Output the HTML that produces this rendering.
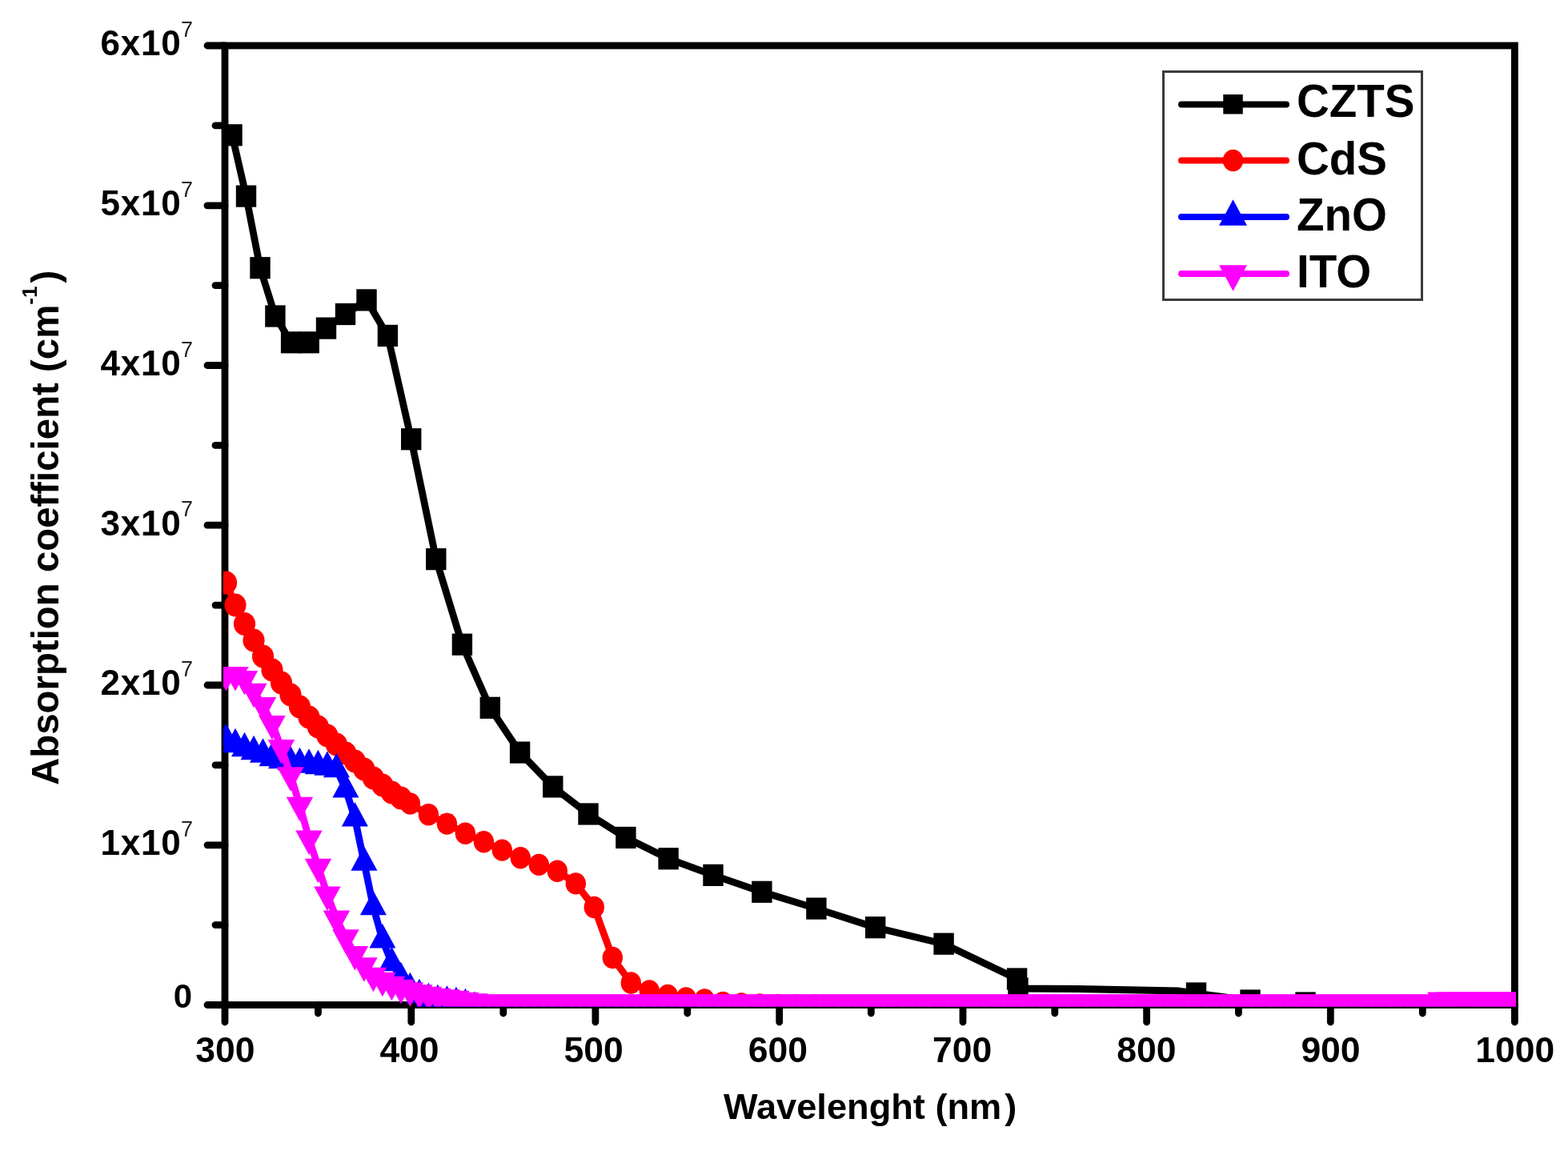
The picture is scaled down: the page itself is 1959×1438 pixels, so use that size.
<!DOCTYPE html>
<html><head><meta charset="utf-8"><title>Absorption coefficient</title>
<style>
html,body{margin:0;padding:0;background:#fff;}
svg{display:block;}
text{font-family:"Liberation Sans",Arial,sans-serif;fill:#000;font-variant-ligatures:none;}
.tk{font-size:43px;font-weight:bold;}
.tkx{font-size:44.5px;font-weight:bold;}
.tky{font-size:44px;font-weight:bold;letter-spacing:0.8px;}
.sup{font-size:27px;font-weight:normal;fill:#222;}
.lg{font-size:56.5px;font-weight:bold;}
.ttl{font-size:45.2px;font-weight:bold;}
.ttly{font-size:47.4px;font-weight:bold;}
.ysup{font-size:26px;font-weight:bold;}
</style></head>
<body>
<svg width="1959" height="1438" viewBox="0 0 1959 1438">
<rect width="1959" height="1438" fill="#fff"/>
<rect x="281" y="57" width="1611.4" height="1198.5" fill="none" stroke="#000" stroke-width="8.8"/>
<line x1="281" y1="1255.5" x2="259" y2="1255.5" stroke="#000" stroke-width="8.8" stroke-linecap="round"/>
<line x1="281" y1="1155.6" x2="269" y2="1155.6" stroke="#000" stroke-width="8.8" stroke-linecap="round"/>
<line x1="281" y1="1055.8" x2="259" y2="1055.8" stroke="#000" stroke-width="8.8" stroke-linecap="round"/>
<line x1="281" y1="955.9" x2="269" y2="955.9" stroke="#000" stroke-width="8.8" stroke-linecap="round"/>
<line x1="281" y1="856.0" x2="259" y2="856.0" stroke="#000" stroke-width="8.8" stroke-linecap="round"/>
<line x1="281" y1="756.1" x2="269" y2="756.1" stroke="#000" stroke-width="8.8" stroke-linecap="round"/>
<line x1="281" y1="656.2" x2="259" y2="656.2" stroke="#000" stroke-width="8.8" stroke-linecap="round"/>
<line x1="281" y1="556.4" x2="269" y2="556.4" stroke="#000" stroke-width="8.8" stroke-linecap="round"/>
<line x1="281" y1="456.5" x2="259" y2="456.5" stroke="#000" stroke-width="8.8" stroke-linecap="round"/>
<line x1="281" y1="356.6" x2="269" y2="356.6" stroke="#000" stroke-width="8.8" stroke-linecap="round"/>
<line x1="281" y1="256.8" x2="259" y2="256.8" stroke="#000" stroke-width="8.8" stroke-linecap="round"/>
<line x1="281" y1="156.9" x2="269" y2="156.9" stroke="#000" stroke-width="8.8" stroke-linecap="round"/>
<line x1="281" y1="57.0" x2="259" y2="57.0" stroke="#000" stroke-width="8.8" stroke-linecap="round"/>
<line x1="281.0" y1="1255.5" x2="281.0" y2="1277.0" stroke="#000" stroke-width="8.8" stroke-linecap="round"/>
<line x1="397.4" y1="1255.5" x2="397.4" y2="1266.0" stroke="#000" stroke-width="8.8" stroke-linecap="round"/>
<line x1="513.8" y1="1255.5" x2="513.8" y2="1277.0" stroke="#000" stroke-width="8.8" stroke-linecap="round"/>
<line x1="628.8" y1="1255.5" x2="628.8" y2="1266.0" stroke="#000" stroke-width="8.8" stroke-linecap="round"/>
<line x1="743.9" y1="1255.5" x2="743.9" y2="1277.0" stroke="#000" stroke-width="8.8" stroke-linecap="round"/>
<line x1="858.8" y1="1255.5" x2="858.8" y2="1266.0" stroke="#000" stroke-width="8.8" stroke-linecap="round"/>
<line x1="973.7" y1="1255.5" x2="973.7" y2="1277.0" stroke="#000" stroke-width="8.8" stroke-linecap="round"/>
<line x1="1088.3" y1="1255.5" x2="1088.3" y2="1266.0" stroke="#000" stroke-width="8.8" stroke-linecap="round"/>
<line x1="1203.0" y1="1255.5" x2="1203.0" y2="1277.0" stroke="#000" stroke-width="8.8" stroke-linecap="round"/>
<line x1="1317.8" y1="1255.5" x2="1317.8" y2="1266.0" stroke="#000" stroke-width="8.8" stroke-linecap="round"/>
<line x1="1432.6" y1="1255.5" x2="1432.6" y2="1277.0" stroke="#000" stroke-width="8.8" stroke-linecap="round"/>
<line x1="1547.4" y1="1255.5" x2="1547.4" y2="1266.0" stroke="#000" stroke-width="8.8" stroke-linecap="round"/>
<line x1="1662.3" y1="1255.5" x2="1662.3" y2="1277.0" stroke="#000" stroke-width="8.8" stroke-linecap="round"/>
<line x1="1777.3" y1="1255.5" x2="1777.3" y2="1266.0" stroke="#000" stroke-width="8.8" stroke-linecap="round"/>
<line x1="1892.4" y1="1255.5" x2="1892.4" y2="1277.0" stroke="#000" stroke-width="8.8" stroke-linecap="round"/>
<defs><clipPath id="pc"><rect x="279" y="54" width="1615" height="1203.5"/></clipPath></defs>
<g clip-path="url(#pc)">
<polyline fill="none" stroke="#000" stroke-width="8.8" stroke-linejoin="round" points="290.0,168.8 307.5,245.1 325.0,334.7 343.9,395.0 363.6,427.8 386.2,427.8 407.5,410.1 431.5,392.5 458.0,374.9 484.4,419.4 513.7,548.7 544.8,698.6 577.4,805.2 612.3,884.3 649.6,940.1 690.8,982.9 735.0,1017.0 781.9,1046.5 835.1,1072.8 891.0,1093.4 951.9,1114.3 1019.9,1135.1 1093.7,1158.7 1179.1,1179.2 1270.6,1223.0 1272.0,1235.0 1347.0,1235.5 1473.0,1238.0 1494.5,1241.0 1562.0,1250.0 1631.0,1253.0 1707.0,1258.0 1789.0,1258.0 1892.0,1258.0"/>
<g fill="#000"><rect x="277.3" y="155.2" width="25.4" height="27.2"/><rect x="294.8" y="231.5" width="25.4" height="27.2"/><rect x="312.3" y="321.1" width="25.4" height="27.2"/><rect x="331.2" y="381.4" width="25.4" height="27.2"/><rect x="350.9" y="414.2" width="25.4" height="27.2"/><rect x="373.5" y="414.2" width="25.4" height="27.2"/><rect x="394.8" y="396.5" width="25.4" height="27.2"/><rect x="418.8" y="378.9" width="25.4" height="27.2"/><rect x="445.3" y="361.3" width="25.4" height="27.2"/><rect x="471.7" y="405.8" width="25.4" height="27.2"/><rect x="501.0" y="535.1" width="25.4" height="27.2"/><rect x="532.1" y="685.0" width="25.4" height="27.2"/><rect x="564.7" y="791.6" width="25.4" height="27.2"/><rect x="599.6" y="870.7" width="25.4" height="27.2"/><rect x="636.9" y="926.5" width="25.4" height="27.2"/><rect x="678.1" y="969.3" width="25.4" height="27.2"/><rect x="722.3" y="1003.4" width="25.4" height="27.2"/><rect x="769.2" y="1032.9" width="25.4" height="27.2"/><rect x="822.4" y="1059.2" width="25.4" height="27.2"/><rect x="878.3" y="1079.8" width="25.4" height="27.2"/><rect x="939.2" y="1100.7" width="25.4" height="27.2"/><rect x="1007.2" y="1121.5" width="25.4" height="27.2"/><rect x="1081.0" y="1145.1" width="25.4" height="27.2"/><rect x="1166.4" y="1165.6" width="25.4" height="27.2"/><rect x="1257.9" y="1209.4" width="25.4" height="27.2"/><rect x="1259.3" y="1221.4" width="25.4" height="27.2"/><rect x="1481.8" y="1227.4" width="25.4" height="27.2"/><rect x="1549.3" y="1236.4" width="25.4" height="27.2"/><rect x="1618.3" y="1239.4" width="25.4" height="27.2"/></g>
<polyline fill="none" stroke="#f00" stroke-width="8.8" stroke-linejoin="round" points="282.5,728.0 294.0,756.0 305.5,779.5 317.0,800.0 328.5,820.0 340.0,837.0 351.5,853.0 363.0,868.0 374.5,883.0 386.0,896.0 397.4,908.0 408.9,919.0 420.4,930.0 431.9,941.0 443.4,951.0 454.9,961.0 466.4,972.0 477.9,981.0 489.4,990.0 500.9,997.0 512.4,1004.0 535.4,1017.8 558.4,1029.1 581.4,1041.3 604.4,1051.7 627.3,1062.1 650.3,1071.7 673.3,1080.4 696.3,1088.2 719.3,1103.9 742.3,1133.5 765.3,1196.5 788.3,1228.0 811.3,1238.0 834.3,1243.4 857.2,1247.0 880.2,1249.0 903.2,1252.5 926.2,1254.0 949.2,1255.0 972.2,1255.5 995.2,1255.7 1018.2,1256.0 1041.2,1257.1 1064.2,1258.0 1087.2,1258.0 1110.1,1258.0 1133.1,1258.0 1156.1,1258.0 1179.1,1258.0 1202.1,1258.0 1225.1,1258.0 1248.1,1258.0 1271.1,1258.0 1294.1,1258.0 1317.0,1258.0 1340.0,1258.0 1363.0,1258.0 1386.0,1258.0 1409.0,1258.0 1432.0,1258.0 1455.0,1258.0 1478.0,1258.0 1501.0,1258.0 1524.0,1258.0 1547.0,1258.0 1569.9,1258.0 1592.9,1258.0 1615.9,1258.0 1638.9,1258.0 1661.9,1258.0 1684.9,1258.0 1707.9,1258.0 1730.9,1258.0 1753.9,1258.0 1776.8,1258.0 1799.8,1258.0 1822.8,1258.0 1845.8,1258.0 1868.8,1258.0 1891.8,1258.0"/>
<g fill="#f00"><ellipse cx="282.5" cy="728.0" rx="13.6" ry="14.6"/><ellipse cx="294.0" cy="756.0" rx="13.6" ry="14.6"/><ellipse cx="305.5" cy="779.5" rx="13.6" ry="14.6"/><ellipse cx="317.0" cy="800.0" rx="13.6" ry="14.6"/><ellipse cx="328.5" cy="820.0" rx="13.6" ry="14.6"/><ellipse cx="340.0" cy="837.0" rx="13.6" ry="14.6"/><ellipse cx="351.5" cy="853.0" rx="13.6" ry="14.6"/><ellipse cx="363.0" cy="868.0" rx="13.6" ry="14.6"/><ellipse cx="374.5" cy="883.0" rx="13.6" ry="14.6"/><ellipse cx="386.0" cy="896.0" rx="13.6" ry="14.6"/><ellipse cx="397.4" cy="908.0" rx="13.6" ry="14.6"/><ellipse cx="408.9" cy="919.0" rx="13.6" ry="14.6"/><ellipse cx="420.4" cy="930.0" rx="13.6" ry="14.6"/><ellipse cx="431.9" cy="941.0" rx="13.6" ry="14.6"/><ellipse cx="443.4" cy="951.0" rx="13.6" ry="14.6"/><ellipse cx="454.9" cy="961.0" rx="13.6" ry="14.6"/><ellipse cx="466.4" cy="972.0" rx="13.6" ry="14.6"/><ellipse cx="477.9" cy="981.0" rx="13.6" ry="14.6"/><ellipse cx="489.4" cy="990.0" rx="13.6" ry="14.6"/><ellipse cx="500.9" cy="997.0" rx="13.6" ry="14.6"/><ellipse cx="512.4" cy="1004.0" rx="12.7" ry="13.7"/><ellipse cx="535.4" cy="1017.8" rx="12.7" ry="13.7"/><ellipse cx="558.4" cy="1029.1" rx="12.7" ry="13.7"/><ellipse cx="581.4" cy="1041.3" rx="12.7" ry="13.7"/><ellipse cx="604.4" cy="1051.7" rx="12.7" ry="13.7"/><ellipse cx="627.3" cy="1062.1" rx="12.7" ry="13.7"/><ellipse cx="650.3" cy="1071.7" rx="12.7" ry="13.7"/><ellipse cx="673.3" cy="1080.4" rx="12.7" ry="13.7"/><ellipse cx="696.3" cy="1088.2" rx="12.7" ry="13.7"/><ellipse cx="719.3" cy="1103.9" rx="12.7" ry="13.7"/><ellipse cx="742.3" cy="1133.5" rx="12.7" ry="13.7"/><ellipse cx="765.3" cy="1196.5" rx="12.7" ry="13.7"/><ellipse cx="788.3" cy="1228.0" rx="12.7" ry="13.7"/><ellipse cx="811.3" cy="1238.0" rx="12.7" ry="13.7"/><ellipse cx="834.3" cy="1243.4" rx="12.7" ry="13.7"/><ellipse cx="857.2" cy="1247.0" rx="12.7" ry="13.7"/><ellipse cx="880.2" cy="1249.0" rx="12.7" ry="13.7"/><ellipse cx="903.2" cy="1252.5" rx="12.7" ry="13.7"/><ellipse cx="926.2" cy="1254.0" rx="12.7" ry="13.7"/><ellipse cx="949.2" cy="1255.0" rx="12.7" ry="13.7"/><ellipse cx="972.2" cy="1255.5" rx="12.7" ry="13.7"/><ellipse cx="995.2" cy="1255.7" rx="12.7" ry="13.7"/><ellipse cx="1018.2" cy="1256.0" rx="12.7" ry="13.7"/><ellipse cx="1041.2" cy="1257.1" rx="12.7" ry="13.7"/><ellipse cx="1064.2" cy="1258.0" rx="12.7" ry="13.7"/><ellipse cx="1087.2" cy="1258.0" rx="12.7" ry="13.7"/><ellipse cx="1110.1" cy="1258.0" rx="12.7" ry="13.7"/><ellipse cx="1133.1" cy="1258.0" rx="12.7" ry="13.7"/><ellipse cx="1156.1" cy="1258.0" rx="12.7" ry="13.7"/><ellipse cx="1179.1" cy="1258.0" rx="12.7" ry="13.7"/><ellipse cx="1202.1" cy="1258.0" rx="12.7" ry="13.7"/><ellipse cx="1225.1" cy="1258.0" rx="12.7" ry="13.7"/><ellipse cx="1248.1" cy="1258.0" rx="12.7" ry="13.7"/><ellipse cx="1271.1" cy="1258.0" rx="12.7" ry="13.7"/><ellipse cx="1294.1" cy="1258.0" rx="12.7" ry="13.7"/><ellipse cx="1317.0" cy="1258.0" rx="12.7" ry="13.7"/><ellipse cx="1340.0" cy="1258.0" rx="12.7" ry="13.7"/><ellipse cx="1363.0" cy="1258.0" rx="12.7" ry="13.7"/><ellipse cx="1386.0" cy="1258.0" rx="12.7" ry="13.7"/><ellipse cx="1409.0" cy="1258.0" rx="12.7" ry="13.7"/><ellipse cx="1432.0" cy="1258.0" rx="12.7" ry="13.7"/><ellipse cx="1455.0" cy="1258.0" rx="12.7" ry="13.7"/><ellipse cx="1478.0" cy="1258.0" rx="12.7" ry="13.7"/><ellipse cx="1501.0" cy="1258.0" rx="12.7" ry="13.7"/><ellipse cx="1524.0" cy="1258.0" rx="12.7" ry="13.7"/><ellipse cx="1547.0" cy="1258.0" rx="12.7" ry="13.7"/><ellipse cx="1569.9" cy="1258.0" rx="12.7" ry="13.7"/><ellipse cx="1592.9" cy="1258.0" rx="12.7" ry="13.7"/><ellipse cx="1615.9" cy="1258.0" rx="12.7" ry="13.7"/><ellipse cx="1638.9" cy="1258.0" rx="12.7" ry="13.7"/><ellipse cx="1661.9" cy="1258.0" rx="12.7" ry="13.7"/><ellipse cx="1684.9" cy="1258.0" rx="12.7" ry="13.7"/><ellipse cx="1707.9" cy="1258.0" rx="12.7" ry="13.7"/><ellipse cx="1730.9" cy="1258.0" rx="12.7" ry="13.7"/><ellipse cx="1753.9" cy="1258.0" rx="12.7" ry="13.7"/><ellipse cx="1776.8" cy="1258.0" rx="12.7" ry="13.7"/><ellipse cx="1799.8" cy="1258.0" rx="12.7" ry="13.7"/><ellipse cx="1822.8" cy="1258.0" rx="12.7" ry="13.7"/><ellipse cx="1845.8" cy="1258.0" rx="12.7" ry="13.7"/><ellipse cx="1868.8" cy="1258.0" rx="12.7" ry="13.7"/><ellipse cx="1891.8" cy="1258.0" rx="12.7" ry="13.7"/></g>
<polyline fill="none" stroke="#00f" stroke-width="8.8" stroke-linejoin="round" points="282.5,924.0 294.0,930.0 305.5,935.0 317.0,939.0 328.5,942.5 340.0,947.0 351.5,950.0 363.0,952.0 374.5,954.0 386.0,955.5 397.4,957.0 408.9,958.5 420.4,961.0 431.9,986.2 443.4,1022.3 454.9,1077.5 466.4,1133.1 477.9,1174.3 489.4,1203.0 500.9,1222.0 512.4,1235.0 523.9,1243.0 535.4,1248.0 546.9,1250.0 558.4,1251.5 569.9,1253.0 581.4,1255.0 592.9,1258.7 604.4,1262.0 615.9,1263.6 627.3,1264.8 638.8,1265.7 650.3,1266.0 661.8,1266.0 673.3,1266.0 684.8,1266.0 696.3,1266.0 707.8,1266.0 719.3,1266.0 730.8,1266.0 742.3,1266.0 753.8,1266.0 765.3,1266.0 776.8,1266.0 788.3,1266.0 799.8,1266.0 811.3,1266.0 822.8,1266.0 834.3,1266.0 845.8,1266.0 857.2,1266.0 868.7,1266.0 880.2,1266.0 891.7,1266.0 903.2,1266.0 914.7,1266.0 926.2,1266.0 937.7,1266.0 949.2,1266.0 960.7,1266.0 972.2,1266.0 983.7,1266.0 995.2,1266.0 1006.7,1266.0 1018.2,1266.0 1029.7,1266.0 1041.2,1266.0 1052.7,1266.0 1064.2,1266.0 1075.7,1266.0 1087.2,1266.0 1098.6,1266.0 1110.1,1266.0 1121.6,1266.0 1133.1,1266.0 1144.6,1266.0 1156.1,1266.0 1167.6,1266.0 1179.1,1266.0 1190.6,1266.0 1202.1,1266.0 1213.6,1266.0 1225.1,1266.0 1236.6,1266.0 1248.1,1266.0 1259.6,1266.0 1271.1,1266.0 1282.6,1266.0 1294.1,1266.0 1305.6,1266.0 1317.0,1266.0 1328.5,1266.0 1340.0,1266.0 1351.5,1266.0 1363.0,1266.0 1374.5,1266.0 1386.0,1266.0 1397.5,1266.0 1409.0,1266.0 1420.5,1266.0 1432.0,1266.0 1443.5,1266.0 1455.0,1266.0 1466.5,1266.0 1478.0,1266.0 1489.5,1266.0 1501.0,1266.0 1512.5,1266.0 1524.0,1266.0 1535.5,1266.0 1547.0,1266.0 1558.4,1266.0 1569.9,1266.0 1581.4,1266.0 1592.9,1266.0 1604.4,1266.0 1615.9,1266.0 1627.4,1266.0 1638.9,1266.0 1650.4,1266.0 1661.9,1266.0 1673.4,1266.0 1684.9,1266.0 1696.4,1266.0 1707.9,1266.0 1719.4,1266.0 1730.9,1266.0 1742.4,1266.0 1753.9,1266.0 1765.4,1266.0 1776.8,1266.0 1788.3,1266.0 1799.8,1266.0 1811.3,1266.0 1822.8,1266.0 1834.3,1266.0 1845.8,1266.0 1857.3,1266.0 1868.8,1266.0 1880.3,1266.0 1891.8,1266.0"/>
<g fill="#00f"><polygon points="282.5,903.7 299.0,934.2 266.0,934.2"/><polygon points="294.0,909.7 310.5,940.2 277.5,940.2"/><polygon points="305.5,914.7 322.0,945.2 289.0,945.2"/><polygon points="317.0,918.7 333.5,949.2 300.5,949.2"/><polygon points="328.5,922.2 345.0,952.7 312.0,952.7"/><polygon points="340.0,926.7 356.5,957.2 323.5,957.2"/><polygon points="351.5,929.7 368.0,960.2 335.0,960.2"/><polygon points="363.0,931.7 379.5,962.2 346.5,962.2"/><polygon points="374.5,933.7 391.0,964.2 358.0,964.2"/><polygon points="386.0,935.2 402.5,965.7 369.5,965.7"/><polygon points="397.4,936.7 413.9,967.2 380.9,967.2"/><polygon points="408.9,938.2 425.4,968.7 392.4,968.7"/><polygon points="420.4,940.7 436.9,971.2 403.9,971.2"/><polygon points="431.9,965.9 448.4,996.4 415.4,996.4"/><polygon points="443.4,1002.0 459.9,1032.5 426.9,1032.5"/><polygon points="454.9,1057.2 471.4,1087.7 438.4,1087.7"/><polygon points="466.4,1112.8 482.9,1143.3 449.9,1143.3"/><polygon points="477.9,1154.0 494.4,1184.5 461.4,1184.5"/><polygon points="489.4,1182.7 505.9,1213.2 472.9,1213.2"/><polygon points="500.9,1201.7 517.4,1232.2 484.4,1232.2"/><polygon points="512.4,1214.7 528.9,1245.2 495.9,1245.2"/><polygon points="523.9,1222.7 540.4,1253.2 507.4,1253.2"/><polygon points="535.4,1227.7 551.9,1258.2 518.9,1258.2"/><polygon points="546.9,1229.7 563.4,1260.2 530.4,1260.2"/><polygon points="558.4,1231.2 574.9,1261.7 541.9,1261.7"/><polygon points="569.9,1232.7 586.4,1263.2 553.4,1263.2"/><polygon points="581.4,1234.7 597.9,1265.2 564.9,1265.2"/><polygon points="592.9,1238.4 609.4,1268.9 576.4,1268.9"/><polygon points="604.4,1241.7 620.9,1272.2 587.9,1272.2"/><polygon points="615.9,1243.2 632.4,1273.7 599.4,1273.7"/><polygon points="627.3,1244.5 643.8,1275.0 610.8,1275.0"/><polygon points="638.8,1245.4 655.3,1275.9 622.3,1275.9"/><polygon points="650.3,1245.7 666.8,1276.2 633.8,1276.2"/><polygon points="661.8,1245.7 678.3,1276.2 645.3,1276.2"/><polygon points="673.3,1245.7 689.8,1276.2 656.8,1276.2"/><polygon points="684.8,1245.7 701.3,1276.2 668.3,1276.2"/><polygon points="696.3,1245.7 712.8,1276.2 679.8,1276.2"/><polygon points="707.8,1245.7 724.3,1276.2 691.3,1276.2"/><polygon points="719.3,1245.7 735.8,1276.2 702.8,1276.2"/><polygon points="730.8,1245.7 747.3,1276.2 714.3,1276.2"/><polygon points="742.3,1245.7 758.8,1276.2 725.8,1276.2"/><polygon points="753.8,1245.7 770.3,1276.2 737.3,1276.2"/><polygon points="765.3,1245.7 781.8,1276.2 748.8,1276.2"/><polygon points="776.8,1245.7 793.3,1276.2 760.3,1276.2"/><polygon points="788.3,1245.7 804.8,1276.2 771.8,1276.2"/><polygon points="799.8,1245.7 816.3,1276.2 783.3,1276.2"/><polygon points="811.3,1245.7 827.8,1276.2 794.8,1276.2"/><polygon points="822.8,1245.7 839.3,1276.2 806.3,1276.2"/><polygon points="834.3,1245.7 850.8,1276.2 817.8,1276.2"/><polygon points="845.8,1245.7 862.3,1276.2 829.3,1276.2"/><polygon points="857.2,1245.7 873.8,1276.2 840.8,1276.2"/><polygon points="868.7,1245.7 885.2,1276.2 852.2,1276.2"/><polygon points="880.2,1245.7 896.7,1276.2 863.7,1276.2"/><polygon points="891.7,1245.7 908.2,1276.2 875.2,1276.2"/><polygon points="903.2,1245.7 919.7,1276.2 886.7,1276.2"/><polygon points="914.7,1245.7 931.2,1276.2 898.2,1276.2"/><polygon points="926.2,1245.7 942.7,1276.2 909.7,1276.2"/><polygon points="937.7,1245.7 954.2,1276.2 921.2,1276.2"/><polygon points="949.2,1245.7 965.7,1276.2 932.7,1276.2"/><polygon points="960.7,1245.7 977.2,1276.2 944.2,1276.2"/><polygon points="972.2,1245.7 988.7,1276.2 955.7,1276.2"/><polygon points="983.7,1245.7 1000.2,1276.2 967.2,1276.2"/><polygon points="995.2,1245.7 1011.7,1276.2 978.7,1276.2"/><polygon points="1006.7,1245.7 1023.2,1276.2 990.2,1276.2"/><polygon points="1018.2,1245.7 1034.7,1276.2 1001.7,1276.2"/><polygon points="1029.7,1245.7 1046.2,1276.2 1013.2,1276.2"/><polygon points="1041.2,1245.7 1057.7,1276.2 1024.7,1276.2"/><polygon points="1052.7,1245.7 1069.2,1276.2 1036.2,1276.2"/><polygon points="1064.2,1245.7 1080.7,1276.2 1047.7,1276.2"/><polygon points="1075.7,1245.7 1092.2,1276.2 1059.2,1276.2"/><polygon points="1087.2,1245.7 1103.7,1276.2 1070.7,1276.2"/><polygon points="1098.6,1245.7 1115.1,1276.2 1082.1,1276.2"/><polygon points="1110.1,1245.7 1126.6,1276.2 1093.6,1276.2"/><polygon points="1121.6,1245.7 1138.1,1276.2 1105.1,1276.2"/><polygon points="1133.1,1245.7 1149.6,1276.2 1116.6,1276.2"/><polygon points="1144.6,1245.7 1161.1,1276.2 1128.1,1276.2"/><polygon points="1156.1,1245.7 1172.6,1276.2 1139.6,1276.2"/><polygon points="1167.6,1245.7 1184.1,1276.2 1151.1,1276.2"/><polygon points="1179.1,1245.7 1195.6,1276.2 1162.6,1276.2"/><polygon points="1190.6,1245.7 1207.1,1276.2 1174.1,1276.2"/><polygon points="1202.1,1245.7 1218.6,1276.2 1185.6,1276.2"/><polygon points="1213.6,1245.7 1230.1,1276.2 1197.1,1276.2"/><polygon points="1225.1,1245.7 1241.6,1276.2 1208.6,1276.2"/><polygon points="1236.6,1245.7 1253.1,1276.2 1220.1,1276.2"/><polygon points="1248.1,1245.7 1264.6,1276.2 1231.6,1276.2"/><polygon points="1259.6,1245.7 1276.1,1276.2 1243.1,1276.2"/><polygon points="1271.1,1245.7 1287.6,1276.2 1254.6,1276.2"/><polygon points="1282.6,1245.7 1299.1,1276.2 1266.1,1276.2"/><polygon points="1294.1,1245.7 1310.6,1276.2 1277.6,1276.2"/><polygon points="1305.6,1245.7 1322.1,1276.2 1289.1,1276.2"/><polygon points="1317.0,1245.7 1333.5,1276.2 1300.5,1276.2"/><polygon points="1328.5,1245.7 1345.0,1276.2 1312.0,1276.2"/><polygon points="1340.0,1245.7 1356.5,1276.2 1323.5,1276.2"/><polygon points="1351.5,1245.7 1368.0,1276.2 1335.0,1276.2"/><polygon points="1363.0,1245.7 1379.5,1276.2 1346.5,1276.2"/><polygon points="1374.5,1245.7 1391.0,1276.2 1358.0,1276.2"/><polygon points="1386.0,1245.7 1402.5,1276.2 1369.5,1276.2"/><polygon points="1397.5,1245.7 1414.0,1276.2 1381.0,1276.2"/><polygon points="1409.0,1245.7 1425.5,1276.2 1392.5,1276.2"/><polygon points="1420.5,1245.7 1437.0,1276.2 1404.0,1276.2"/><polygon points="1432.0,1245.7 1448.5,1276.2 1415.5,1276.2"/><polygon points="1443.5,1245.7 1460.0,1276.2 1427.0,1276.2"/><polygon points="1455.0,1245.7 1471.5,1276.2 1438.5,1276.2"/><polygon points="1466.5,1245.7 1483.0,1276.2 1450.0,1276.2"/><polygon points="1478.0,1245.7 1494.5,1276.2 1461.5,1276.2"/><polygon points="1489.5,1245.7 1506.0,1276.2 1473.0,1276.2"/><polygon points="1501.0,1245.7 1517.5,1276.2 1484.5,1276.2"/><polygon points="1512.5,1245.7 1529.0,1276.2 1496.0,1276.2"/><polygon points="1524.0,1245.7 1540.5,1276.2 1507.5,1276.2"/><polygon points="1535.5,1245.7 1552.0,1276.2 1519.0,1276.2"/><polygon points="1547.0,1245.7 1563.5,1276.2 1530.5,1276.2"/><polygon points="1558.4,1245.7 1574.9,1276.2 1541.9,1276.2"/><polygon points="1569.9,1245.7 1586.4,1276.2 1553.4,1276.2"/><polygon points="1581.4,1245.7 1597.9,1276.2 1564.9,1276.2"/><polygon points="1592.9,1245.7 1609.4,1276.2 1576.4,1276.2"/><polygon points="1604.4,1245.7 1620.9,1276.2 1587.9,1276.2"/><polygon points="1615.9,1245.7 1632.4,1276.2 1599.4,1276.2"/><polygon points="1627.4,1245.7 1643.9,1276.2 1610.9,1276.2"/><polygon points="1638.9,1245.7 1655.4,1276.2 1622.4,1276.2"/><polygon points="1650.4,1245.7 1666.9,1276.2 1633.9,1276.2"/><polygon points="1661.9,1245.7 1678.4,1276.2 1645.4,1276.2"/><polygon points="1673.4,1245.7 1689.9,1276.2 1656.9,1276.2"/><polygon points="1684.9,1245.7 1701.4,1276.2 1668.4,1276.2"/><polygon points="1696.4,1245.7 1712.9,1276.2 1679.9,1276.2"/><polygon points="1707.9,1245.7 1724.4,1276.2 1691.4,1276.2"/><polygon points="1719.4,1245.7 1735.9,1276.2 1702.9,1276.2"/><polygon points="1730.9,1245.7 1747.4,1276.2 1714.4,1276.2"/><polygon points="1742.4,1245.7 1758.9,1276.2 1725.9,1276.2"/><polygon points="1753.9,1245.7 1770.4,1276.2 1737.4,1276.2"/><polygon points="1765.4,1245.7 1781.9,1276.2 1748.9,1276.2"/><polygon points="1776.8,1245.7 1793.3,1276.2 1760.3,1276.2"/><polygon points="1788.3,1245.7 1804.8,1276.2 1771.8,1276.2"/><polygon points="1799.8,1245.7 1816.3,1276.2 1783.3,1276.2"/><polygon points="1811.3,1245.7 1827.8,1276.2 1794.8,1276.2"/><polygon points="1822.8,1245.7 1839.3,1276.2 1806.3,1276.2"/><polygon points="1834.3,1245.7 1850.8,1276.2 1817.8,1276.2"/><polygon points="1845.8,1245.7 1862.3,1276.2 1829.3,1276.2"/><polygon points="1857.3,1245.7 1873.8,1276.2 1840.8,1276.2"/><polygon points="1868.8,1245.7 1885.3,1276.2 1852.3,1276.2"/><polygon points="1880.3,1245.7 1896.8,1276.2 1863.8,1276.2"/><polygon points="1891.8,1245.7 1908.3,1276.2 1875.3,1276.2"/></g>
<polyline fill="none" stroke="#f0f" stroke-width="8.8" stroke-linejoin="round" points="282.5,843.3 294.0,843.3 305.5,848.3 317.0,863.9 328.5,881.3 340.0,904.3 351.5,934.3 363.0,968.5 374.5,1005.9 386.0,1047.6 397.4,1082.9 408.9,1117.7 420.4,1147.6 431.9,1171.4 443.4,1192.3 454.9,1206.4 466.4,1218.9 477.9,1225.0 489.4,1230.0 500.9,1234.0 512.4,1237.5 523.9,1240.5 535.4,1243.0 546.9,1245.0 558.4,1246.5 569.9,1248.0 581.4,1250.0 592.9,1251.5 604.4,1252.6 615.9,1252.6 627.3,1252.6 638.8,1252.6 650.3,1252.6 661.8,1252.6 673.3,1252.6 684.8,1252.6 696.3,1252.6 707.8,1252.6 719.3,1252.6 730.8,1252.6 742.3,1252.6 753.8,1252.6 765.3,1252.6 776.8,1252.6 788.3,1252.6 799.8,1252.6 811.3,1252.6 822.8,1252.6 834.3,1252.6 845.8,1252.6 857.2,1252.6 868.7,1252.6 880.2,1252.6 891.7,1252.6 903.2,1252.6 914.7,1252.6 926.2,1252.6 937.7,1252.6 949.2,1252.6 960.7,1252.6 972.2,1252.6 983.7,1252.6 995.2,1252.6 1006.7,1252.6 1018.2,1252.6 1029.7,1252.6 1041.2,1252.6 1052.7,1252.6 1064.2,1252.6 1075.7,1252.6 1087.2,1252.6 1098.6,1252.6 1110.1,1252.6 1121.6,1252.6 1133.1,1252.6 1144.6,1252.6 1156.1,1252.6 1167.6,1252.6 1179.1,1252.6 1190.6,1252.6 1202.1,1252.6 1213.6,1252.6 1225.1,1252.6 1236.6,1252.6 1248.1,1252.6 1259.6,1252.6 1271.1,1252.6 1282.6,1252.6 1294.1,1252.6 1305.6,1252.6 1317.0,1252.6 1328.5,1252.6 1340.0,1252.6 1351.5,1252.6 1363.0,1252.6 1374.5,1252.6 1386.0,1252.6 1397.5,1252.6 1409.0,1252.6 1420.5,1252.6 1432.0,1252.6 1443.5,1252.6 1455.0,1252.6 1466.5,1252.6 1478.0,1252.6 1489.5,1252.6 1501.0,1252.6 1512.5,1252.6 1524.0,1252.6 1535.5,1252.6 1547.0,1252.6 1558.4,1252.6 1569.9,1252.6 1581.4,1252.6 1592.9,1252.6 1604.4,1252.6 1615.9,1252.6 1627.4,1252.6 1638.9,1252.6 1650.4,1252.6 1661.9,1252.6 1673.4,1252.6 1684.9,1252.6 1696.4,1252.6 1707.9,1252.6 1719.4,1252.6 1730.9,1252.6 1742.4,1252.6 1753.9,1252.6 1765.4,1252.6 1776.8,1252.6 1788.3,1252.6 1799.8,1249.8 1811.3,1249.8 1822.8,1249.8 1834.3,1249.8 1845.8,1249.8 1857.3,1249.8 1868.8,1249.8 1880.3,1249.8 1891.8,1249.8"/>
<g fill="#f0f"><polygon points="265.8,833.1 299.2,833.1 282.5,863.6"/><polygon points="277.2,833.1 310.7,833.1 294.0,863.6"/><polygon points="288.7,838.1 322.2,838.1 305.5,868.6"/><polygon points="300.2,853.7 333.7,853.7 317.0,884.2"/><polygon points="311.7,871.1 345.2,871.1 328.5,901.6"/><polygon points="323.2,894.1 356.7,894.1 340.0,924.6"/><polygon points="334.7,924.1 368.2,924.1 351.5,954.6"/><polygon points="346.2,958.3 379.7,958.3 363.0,988.8"/><polygon points="357.7,995.7 391.2,995.7 374.5,1026.2"/><polygon points="369.2,1037.4 402.7,1037.4 386.0,1067.9"/><polygon points="380.7,1072.7 414.2,1072.7 397.4,1103.2"/><polygon points="392.2,1107.5 425.7,1107.5 408.9,1138.0"/><polygon points="403.7,1137.4 437.2,1137.4 420.4,1167.9"/><polygon points="415.2,1161.2 448.7,1161.2 431.9,1191.7"/><polygon points="426.7,1182.1 460.2,1182.1 443.4,1212.6"/><polygon points="438.2,1196.2 471.7,1196.2 454.9,1226.7"/><polygon points="449.7,1208.7 483.2,1208.7 466.4,1239.2"/><polygon points="461.2,1214.8 494.7,1214.8 477.9,1245.3"/><polygon points="472.7,1219.8 506.2,1219.8 489.4,1250.3"/><polygon points="484.2,1223.8 517.7,1223.8 500.9,1254.3"/><polygon points="495.6,1227.3 529.1,1227.3 512.4,1257.8"/><polygon points="507.1,1230.3 540.6,1230.3 523.9,1260.8"/><polygon points="518.6,1232.8 552.1,1232.8 535.4,1263.3"/><polygon points="530.1,1234.8 563.6,1234.8 546.9,1265.3"/><polygon points="541.6,1236.3 575.1,1236.3 558.4,1266.8"/><polygon points="553.1,1237.8 586.6,1237.8 569.9,1268.3"/><polygon points="564.6,1239.8 598.1,1239.8 581.4,1270.3"/><polygon points="576.1,1241.3 609.6,1241.3 592.9,1271.8"/><polygon points="587.6,1242.4 621.1,1242.4 604.4,1272.9"/><polygon points="599.1,1242.4 632.6,1242.4 615.9,1272.9"/><polygon points="610.6,1242.4 644.1,1242.4 627.3,1272.9"/><polygon points="622.1,1242.4 655.6,1242.4 638.8,1272.9"/><polygon points="633.6,1242.4 667.1,1242.4 650.3,1272.9"/><polygon points="645.1,1242.4 678.6,1242.4 661.8,1272.9"/><polygon points="656.6,1242.4 690.1,1242.4 673.3,1272.9"/><polygon points="668.1,1242.4 701.6,1242.4 684.8,1272.9"/><polygon points="679.6,1242.4 713.1,1242.4 696.3,1272.9"/><polygon points="691.1,1242.4 724.6,1242.4 707.8,1272.9"/><polygon points="702.6,1242.4 736.1,1242.4 719.3,1272.9"/><polygon points="714.1,1242.4 747.6,1242.4 730.8,1272.9"/><polygon points="725.5,1242.4 759.0,1242.4 742.3,1272.9"/><polygon points="737.0,1242.4 770.5,1242.4 753.8,1272.9"/><polygon points="748.5,1242.4 782.0,1242.4 765.3,1272.9"/><polygon points="760.0,1242.4 793.5,1242.4 776.8,1272.9"/><polygon points="771.5,1242.4 805.0,1242.4 788.3,1272.9"/><polygon points="783.0,1242.4 816.5,1242.4 799.8,1272.9"/><polygon points="794.5,1242.4 828.0,1242.4 811.3,1272.9"/><polygon points="806.0,1242.4 839.5,1242.4 822.8,1272.9"/><polygon points="817.5,1242.4 851.0,1242.4 834.3,1272.9"/><polygon points="829.0,1242.4 862.5,1242.4 845.8,1272.9"/><polygon points="840.5,1242.4 874.0,1242.4 857.2,1272.9"/><polygon points="852.0,1242.4 885.5,1242.4 868.7,1272.9"/><polygon points="863.5,1242.4 897.0,1242.4 880.2,1272.9"/><polygon points="875.0,1242.4 908.5,1242.4 891.7,1272.9"/><polygon points="886.5,1242.4 920.0,1242.4 903.2,1272.9"/><polygon points="898.0,1242.4 931.5,1242.4 914.7,1272.9"/><polygon points="909.5,1242.4 943.0,1242.4 926.2,1272.9"/><polygon points="921.0,1242.4 954.5,1242.4 937.7,1272.9"/><polygon points="932.5,1242.4 966.0,1242.4 949.2,1272.9"/><polygon points="944.0,1242.4 977.5,1242.4 960.7,1272.9"/><polygon points="955.4,1242.4 988.9,1242.4 972.2,1272.9"/><polygon points="966.9,1242.4 1000.4,1242.4 983.7,1272.9"/><polygon points="978.4,1242.4 1011.9,1242.4 995.2,1272.9"/><polygon points="989.9,1242.4 1023.4,1242.4 1006.7,1272.9"/><polygon points="1001.4,1242.4 1034.9,1242.4 1018.2,1272.9"/><polygon points="1012.9,1242.4 1046.4,1242.4 1029.7,1272.9"/><polygon points="1024.4,1242.4 1057.9,1242.4 1041.2,1272.9"/><polygon points="1035.9,1242.4 1069.4,1242.4 1052.7,1272.9"/><polygon points="1047.4,1242.4 1080.9,1242.4 1064.2,1272.9"/><polygon points="1058.9,1242.4 1092.4,1242.4 1075.7,1272.9"/><polygon points="1070.4,1242.4 1103.9,1242.4 1087.2,1272.9"/><polygon points="1081.9,1242.4 1115.4,1242.4 1098.6,1272.9"/><polygon points="1093.4,1242.4 1126.9,1242.4 1110.1,1272.9"/><polygon points="1104.9,1242.4 1138.4,1242.4 1121.6,1272.9"/><polygon points="1116.4,1242.4 1149.9,1242.4 1133.1,1272.9"/><polygon points="1127.9,1242.4 1161.4,1242.4 1144.6,1272.9"/><polygon points="1139.4,1242.4 1172.9,1242.4 1156.1,1272.9"/><polygon points="1150.9,1242.4 1184.4,1242.4 1167.6,1272.9"/><polygon points="1162.4,1242.4 1195.9,1242.4 1179.1,1272.9"/><polygon points="1173.9,1242.4 1207.4,1242.4 1190.6,1272.9"/><polygon points="1185.3,1242.4 1218.8,1242.4 1202.1,1272.9"/><polygon points="1196.8,1242.4 1230.3,1242.4 1213.6,1272.9"/><polygon points="1208.3,1242.4 1241.8,1242.4 1225.1,1272.9"/><polygon points="1219.8,1242.4 1253.3,1242.4 1236.6,1272.9"/><polygon points="1231.3,1242.4 1264.8,1242.4 1248.1,1272.9"/><polygon points="1242.8,1242.4 1276.3,1242.4 1259.6,1272.9"/><polygon points="1254.3,1242.4 1287.8,1242.4 1271.1,1272.9"/><polygon points="1265.8,1242.4 1299.3,1242.4 1282.6,1272.9"/><polygon points="1277.3,1242.4 1310.8,1242.4 1294.1,1272.9"/><polygon points="1288.8,1242.4 1322.3,1242.4 1305.6,1272.9"/><polygon points="1300.3,1242.4 1333.8,1242.4 1317.0,1272.9"/><polygon points="1311.8,1242.4 1345.3,1242.4 1328.5,1272.9"/><polygon points="1323.3,1242.4 1356.8,1242.4 1340.0,1272.9"/><polygon points="1334.8,1242.4 1368.3,1242.4 1351.5,1272.9"/><polygon points="1346.3,1242.4 1379.8,1242.4 1363.0,1272.9"/><polygon points="1357.8,1242.4 1391.3,1242.4 1374.5,1272.9"/><polygon points="1369.3,1242.4 1402.8,1242.4 1386.0,1272.9"/><polygon points="1380.8,1242.4 1414.3,1242.4 1397.5,1272.9"/><polygon points="1392.3,1242.4 1425.8,1242.4 1409.0,1272.9"/><polygon points="1403.8,1242.4 1437.3,1242.4 1420.5,1272.9"/><polygon points="1415.2,1242.4 1448.8,1242.4 1432.0,1272.9"/><polygon points="1426.7,1242.4 1460.2,1242.4 1443.5,1272.9"/><polygon points="1438.2,1242.4 1471.7,1242.4 1455.0,1272.9"/><polygon points="1449.7,1242.4 1483.2,1242.4 1466.5,1272.9"/><polygon points="1461.2,1242.4 1494.7,1242.4 1478.0,1272.9"/><polygon points="1472.7,1242.4 1506.2,1242.4 1489.5,1272.9"/><polygon points="1484.2,1242.4 1517.7,1242.4 1501.0,1272.9"/><polygon points="1495.7,1242.4 1529.2,1242.4 1512.5,1272.9"/><polygon points="1507.2,1242.4 1540.7,1242.4 1524.0,1272.9"/><polygon points="1518.7,1242.4 1552.2,1242.4 1535.5,1272.9"/><polygon points="1530.2,1242.4 1563.7,1242.4 1547.0,1272.9"/><polygon points="1541.7,1242.4 1575.2,1242.4 1558.4,1272.9"/><polygon points="1553.2,1242.4 1586.7,1242.4 1569.9,1272.9"/><polygon points="1564.7,1242.4 1598.2,1242.4 1581.4,1272.9"/><polygon points="1576.2,1242.4 1609.7,1242.4 1592.9,1272.9"/><polygon points="1587.7,1242.4 1621.2,1242.4 1604.4,1272.9"/><polygon points="1599.2,1242.4 1632.7,1242.4 1615.9,1272.9"/><polygon points="1610.7,1242.4 1644.2,1242.4 1627.4,1272.9"/><polygon points="1622.2,1242.4 1655.7,1242.4 1638.9,1272.9"/><polygon points="1633.7,1242.4 1667.2,1242.4 1650.4,1272.9"/><polygon points="1645.1,1242.4 1678.6,1242.4 1661.9,1272.9"/><polygon points="1656.6,1242.4 1690.1,1242.4 1673.4,1272.9"/><polygon points="1668.1,1242.4 1701.6,1242.4 1684.9,1272.9"/><polygon points="1679.6,1242.4 1713.1,1242.4 1696.4,1272.9"/><polygon points="1691.1,1242.4 1724.6,1242.4 1707.9,1272.9"/><polygon points="1702.6,1242.4 1736.1,1242.4 1719.4,1272.9"/><polygon points="1714.1,1242.4 1747.6,1242.4 1730.9,1272.9"/><polygon points="1725.6,1242.4 1759.1,1242.4 1742.4,1272.9"/><polygon points="1737.1,1242.4 1770.6,1242.4 1753.9,1272.9"/><polygon points="1748.6,1242.4 1782.1,1242.4 1765.4,1272.9"/><polygon points="1760.1,1242.4 1793.6,1242.4 1776.8,1272.9"/><polygon points="1771.6,1242.4 1805.1,1242.4 1788.3,1272.9"/><polygon points="1783.1,1239.6 1816.6,1239.6 1799.8,1270.1"/><polygon points="1794.6,1239.6 1828.1,1239.6 1811.3,1270.1"/><polygon points="1806.1,1239.6 1839.6,1239.6 1822.8,1270.1"/><polygon points="1817.6,1239.6 1851.1,1239.6 1834.3,1270.1"/><polygon points="1829.1,1239.6 1862.6,1239.6 1845.8,1270.1"/><polygon points="1840.6,1239.6 1874.1,1239.6 1857.3,1270.1"/><polygon points="1852.1,1239.6 1885.6,1239.6 1868.8,1270.1"/><polygon points="1863.6,1239.6 1897.1,1239.6 1880.3,1270.1"/><polygon points="1875.0,1239.6 1908.5,1239.6 1891.8,1270.1"/></g>
</g>
<rect x="1453.5" y="89.5" width="323" height="285" fill="none" stroke="#3a3a3a" stroke-width="3"/>
<line x1="1476" y1="130.5" x2="1607" y2="130.5" stroke="#000" stroke-width="8" stroke-linecap="round"/>
<rect x="1528.25" y="118.0" width="24.5" height="24.5" fill="#000"/>
<text x="1620" y="146.0" class="lg">CZTS</text>
<line x1="1476" y1="200.5" x2="1607" y2="200.5" stroke="#f00" stroke-width="8" stroke-linecap="round"/>
<g fill="#f00"><ellipse cx="1540.5" cy="200.5" rx="12.7" ry="13.7"/></g>
<text x="1620" y="217.5" class="lg">CdS</text>
<line x1="1476" y1="271" x2="1607" y2="271" stroke="#00f" stroke-width="8" stroke-linecap="round"/>
<g fill="#00f"><polygon points="1540.5,249.3 1558.0,281.8 1523.0,281.8"/></g>
<text x="1620" y="288" class="lg">ZnO</text>
<line x1="1476" y1="342" x2="1607" y2="342" stroke="#f0f" stroke-width="8" stroke-linecap="round"/>
<g fill="#f0f"><polygon points="1523.0,331.2 1558.0,331.2 1540.5,363.7"/></g>
<text x="1620" y="359" class="lg">ITO</text>
<text x="281.3" y="1327" class="tkx" text-anchor="middle">300</text>
<text x="511.5" y="1327" class="tkx" text-anchor="middle">400</text>
<text x="741.7" y="1327" class="tkx" text-anchor="middle">500</text>
<text x="971.9" y="1327" class="tkx" text-anchor="middle">600</text>
<text x="1202.1" y="1327" class="tkx" text-anchor="middle">700</text>
<text x="1432.3" y="1327" class="tkx" text-anchor="middle">800</text>
<text x="1662.5" y="1327" class="tkx" text-anchor="middle">900</text>
<text x="1892.7" y="1327" class="tkx" text-anchor="middle">1000</text>
<text x="240" y="1258.5" class="tk" style="font-size:42px" text-anchor="end">0</text>
<text x="226.5" y="1068.0" class="tky" text-anchor="end">1x10</text>
<text x="226" y="1044.8" class="sup">7</text>
<text x="226.5" y="868.3" class="tky" text-anchor="end">2x10</text>
<text x="226" y="845.0" class="sup">7</text>
<text x="226.5" y="668.5" class="tky" text-anchor="end">3x10</text>
<text x="226" y="645.2" class="sup">7</text>
<text x="226.5" y="468.8" class="tky" text-anchor="end">4x10</text>
<text x="226" y="445.5" class="sup">7</text>
<text x="226.5" y="269.1" class="tky" text-anchor="end">5x10</text>
<text x="226" y="245.8" class="sup">7</text>
<text x="226.5" y="69.3" class="tky" text-anchor="end">6x10</text>
<text x="226" y="46.0" class="sup">7</text>
<text x="904" y="1398" class="ttl">Wavelenght (nm<tspan dx="4">)</tspan></text>
<text transform="translate(73,981) rotate(-90)" class="ttly">Absorption coefficient (cm<tspan class="ysup" dy="-27">-1</tspan><tspan dy="27" dx="4">)</tspan></text>
</svg>
</body></html>
